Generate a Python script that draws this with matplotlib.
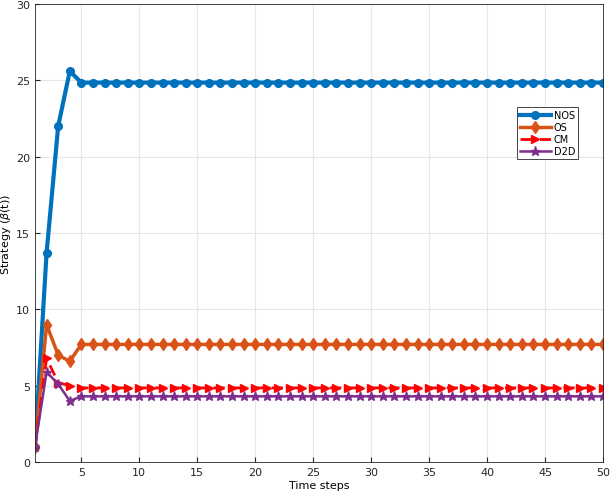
import matplotlib
matplotlib.use("Agg")
import matplotlib.pyplot as plt
import numpy as np

t = np.arange(1, 51)
nos_head = [1, 13.7, 22.0, 25.6]
os_head = [1, 9.0, 7.0, 6.6]
cm_head = [1, 6.8, 5.2, 5.0]
d2d_head = [1, 5.9, 5.1, 4.0]
nos_steady, os_steady, cm_steady, d2d_steady = 24.85, 7.7, 4.85, 4.3

nos = nos_head + [nos_steady] * 46
os_ = os_head + [os_steady] * 46
cm = cm_head + [cm_steady] * 46
d2d = d2d_head + [d2d_steady] * 46

plt.rcParams.update({"font.family": "DejaVu Sans", "font.size": 8})

fig = plt.figure(figsize=(6.10, 5.02), dpi=100)
ax = fig.add_axes([35/610, 39/502, 568/610, 458/502])

ax.plot(t, nos, color="#0072BD", lw=3, marker="o", ms=5.5, label="NOS")
ax.plot(t, os_, color="#D95319", lw=2.5, marker="d", ms=6, label="OS")
ax.plot(t, cm, color="#FF0000", lw=2, ls=(0, (4, 3)), marker=">", ms=5.5, label="CM")
ax.plot(t, d2d, color="#7E2F8E", lw=1.8, marker="*", ms=6.5, label="D2D")

ax.set_xlim(1, 50)
ax.set_ylim(0, 30)
ax.set_xticks([5, 10, 15, 20, 25, 30, 35, 40, 45, 50])
ax.set_yticks(range(0, 31, 5))
ax.grid(True, color="#e6e6e6", lw=0.8)
ax.set_axisbelow(True)
ax.tick_params(direction="in", colors="#262626", labelsize=8)
for s in ax.spines.values():
    s.set_color("#262626")
    s.set_linewidth(0.6)
ax.set_xlabel("Time steps", fontsize=8, labelpad=2)
ax.set_ylabel(r"Strategy ($\beta$(t))", fontsize=8, labelpad=2)

leg = ax.legend(loc="upper left", bbox_to_anchor=(0.84, 0.785), fontsize=7,
                fancybox=False, edgecolor="#262626", framealpha=1,
                handlelength=3.2, borderpad=0.3, labelspacing=0.2, handletextpad=0.3)
leg.get_frame().set_linewidth(0.6)

fig.savefig("out.png", dpi=100)
